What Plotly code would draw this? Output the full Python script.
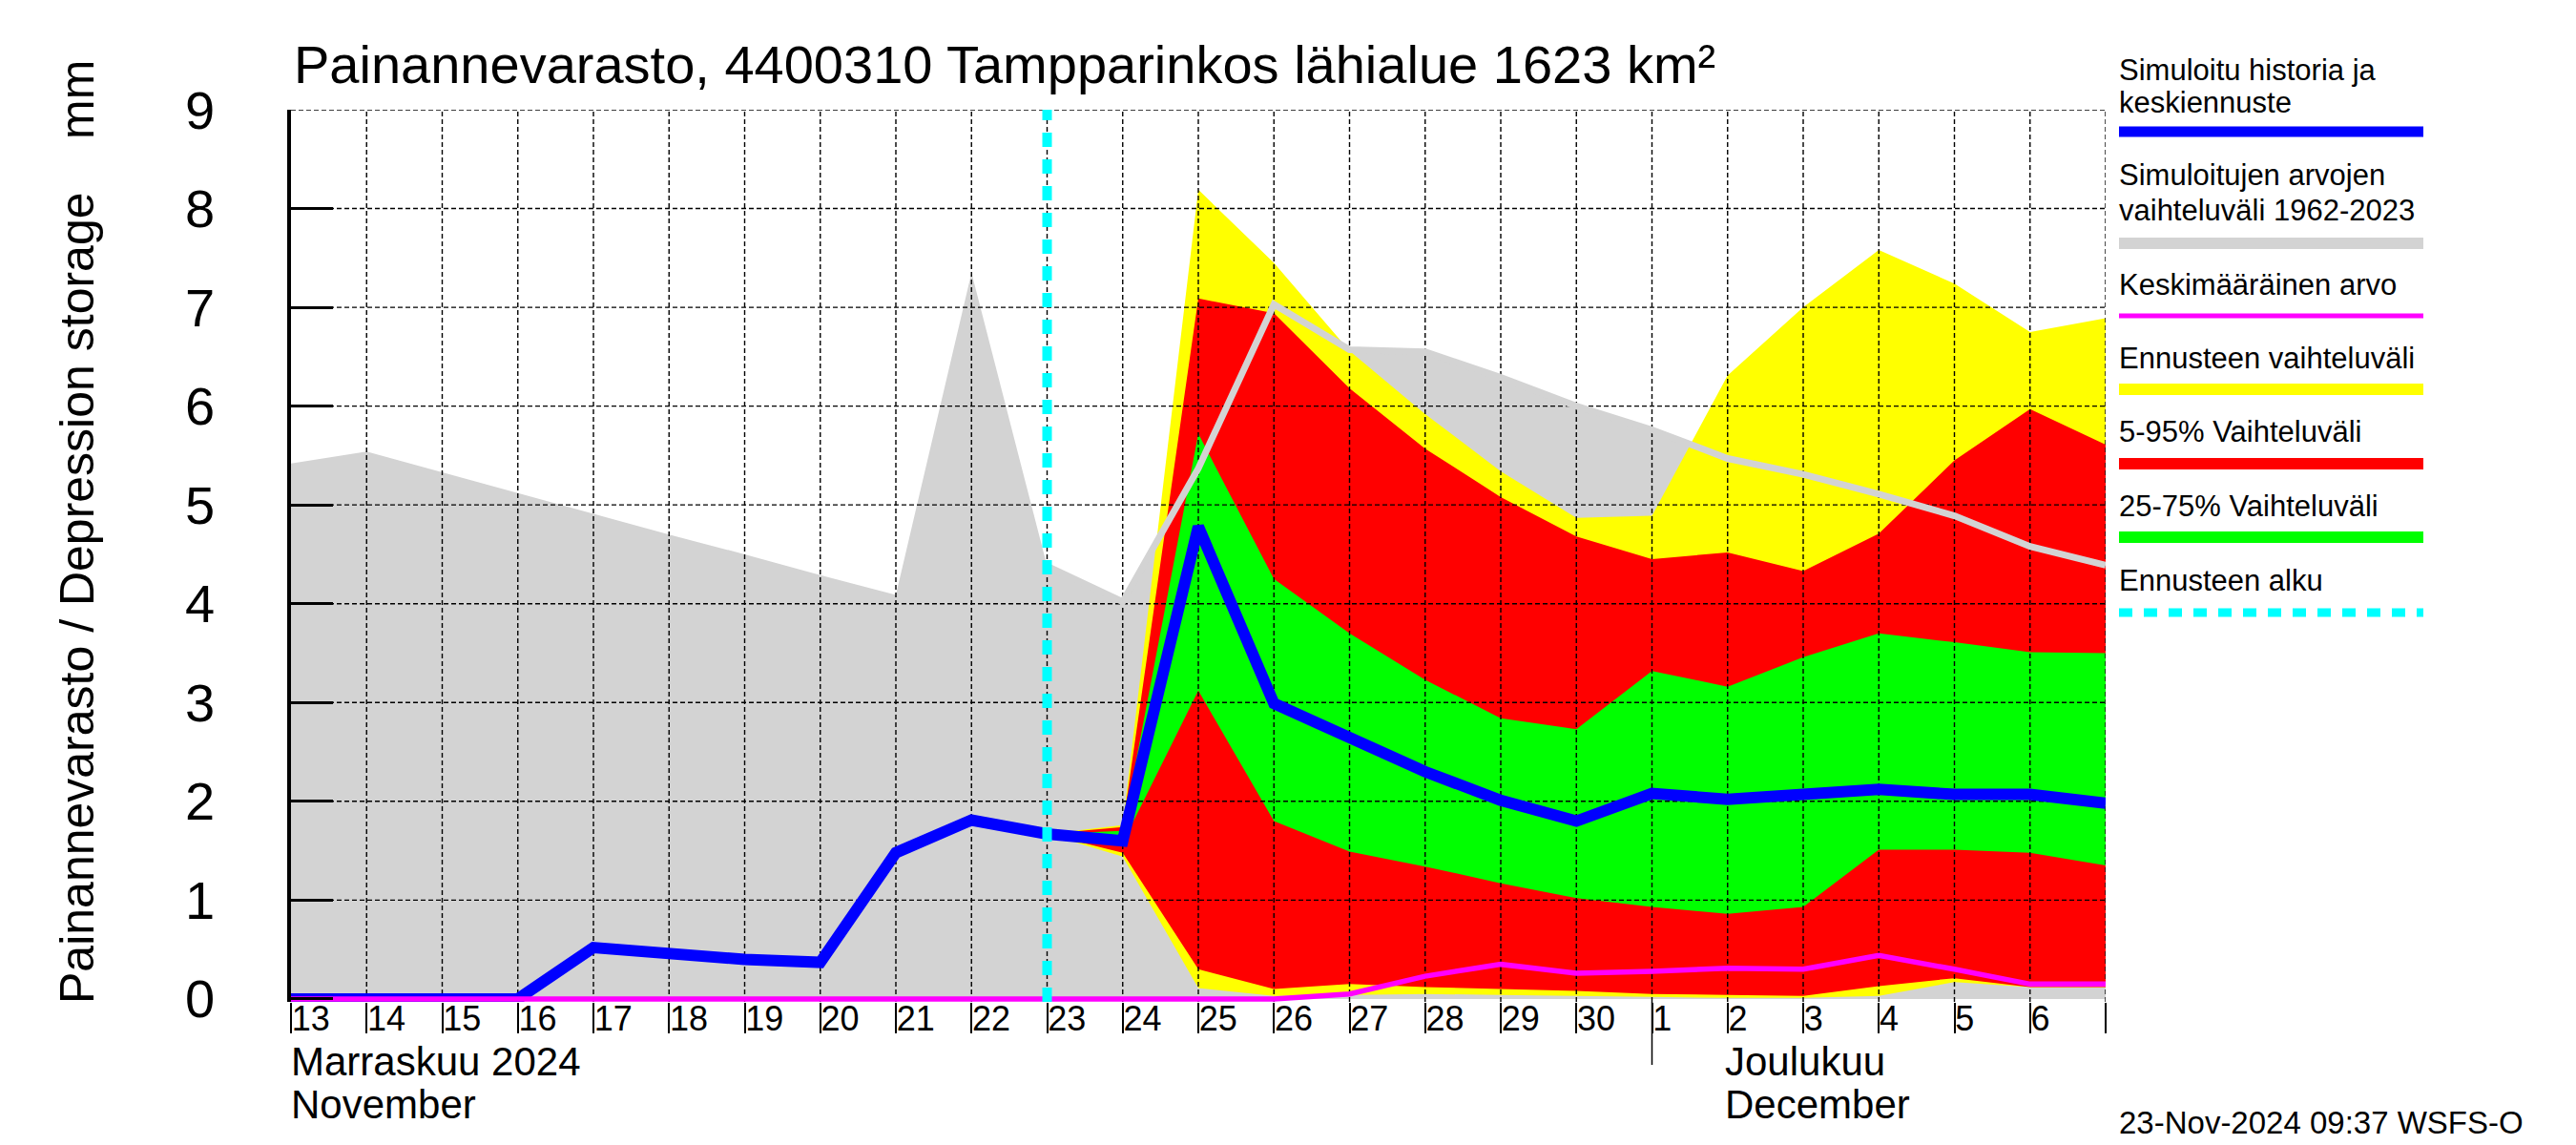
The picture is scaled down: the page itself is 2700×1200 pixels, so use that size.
import plotly.graph_objects as go

# ---------------- data ----------------
sim_dates = ["2024-11-13", "2024-11-14", "2024-11-15", "2024-11-16", "2024-11-17",
             "2024-11-18", "2024-11-19", "2024-11-20", "2024-11-21", "2024-11-22",
             "2024-11-23", "2024-11-24", "2024-11-25", "2024-11-26", "2024-11-27",
             "2024-11-28", "2024-11-29", "2024-11-30", "2024-12-01", "2024-12-02",
             "2024-12-03", "2024-12-04", "2024-12-05", "2024-12-06", "2024-12-07"]
day_labels = ["13", "14", "15", "16", "17", "18", "19", "20", "21", "22", "23", "24",
              "25", "26", "27", "28", "29", "30", "1", "2", "3", "4", "5", "6", ""]

sim_median = [0, 0, 0, 0, 0.52, 0.45, 0.40, 0.37, 1.48, 1.81, 1.67, 1.60, 4.78,
              2.99, 2.66, 2.30, 2.01, 1.80, 2.08, 2.02, 2.07, 2.12, 2.07, 2.07, 1.98]
hist_max = [5.42, 5.54, 5.33, 5.12, 4.91, 4.70, 4.50, 4.29, 4.09, 7.35, 4.38, 4.02,
            5.37, 7.03, 6.57, 6.55, 6.29, 6.00, 5.76, 5.47, 5.31, 5.11, 4.89, 4.58, 4.39]
hist_min = [0, 0, 0, 0, 0, 0, 0, 0, 0, 0, 0, 0, 0, 0, 0, 0, 0, 0, 0, 0, 0, 0, 0, 0, 0]
hist_mean = [0, 0, 0, 0, 0, 0, 0, 0, 0, 0, 0, 0, 0, 0, 0.05, 0.23, 0.35, 0.26,
             0.28, 0.31, 0.30, 0.44, 0.30, 0.15, 0.15]

fc_dates = sim_dates[10:]
fc_max = [1.67, 1.76, 8.19, 7.45, 6.56, 5.92, 5.34, 4.87, 4.89, 6.31, 7.00, 7.58, 7.24, 6.75, 6.89]
fc_p95 = [1.67, 1.74, 7.09, 6.94, 6.18, 5.57, 5.08, 4.68, 4.45, 4.52, 4.33, 4.71, 5.45, 5.97, 5.61]
fc_p75 = [1.67, 1.70, 5.72, 4.25, 3.70, 3.23, 2.84, 2.73, 3.32, 3.16, 3.46, 3.70, 3.61, 3.51, 3.50]
fc_p25 = [1.67, 1.58, 3.12, 1.80, 1.49, 1.34, 1.17, 1.02, 0.93, 0.86, 0.93, 1.51, 1.51, 1.48, 1.35]
fc_p05 = [1.67, 1.48, 0.30, 0.10, 0.15, 0.12, 0.10, 0.08, 0.05, 0.04, 0.03, 0.13, 0.21, 0.12, 0.12]
fc_min = [1.67, 1.44, 0.11, 0.03, 0.04, 0.05, 0.04, 0.03, 0.02, 0.01, 0.01, 0.03, 0.17, 0.12, 0.12]
forecast_start = "2024-11-23"

y_ticks = [0, 1, 2, 3, 4, 5, 6, 7, 8, 9]
y_range = [-0.03, 9]

title_text = "Painannevarasto, 4400310 Tampparinkos lähialue 1623 km²"
ytitle_text = "Painannevarasto / Depression storage    mm"
month_labels = [("Marraskuu 2024", "November"), ("Joulukuu", "December")]
month_label_px = [303, 1806]
month_start = "2024-12-01"
timestamp = "23-Nov-2024 09:37 WSFS-O"

legend_items = [
    (["Simuloitu historia ja", "keskiennuste"], "#0000ff", 11, "solid"),
    (["Simuloitujen arvojen", "vaihteluväli 1962-2023"], "#d3d3d3", 12, "solid"),
    (["Keskimääräinen arvo"], "#ff00ff", 5, "solid"),
    (["Ennusteen vaihteluväli"], "#ffff00", 12, "solid"),
    (["5-95% Vaihteluväli"], "#ff0000", 12, "solid"),
    (["25-75% Vaihteluväli"], "#00ff00", 12, "solid"),
    (["Ennusteen alku"], "#00ffff", 9, "14px,12px"),
]

FONT = "Liberation Sans, Arial, Helvetica, sans-serif"
W, H = 2700, 1200
L, R, T, B = 305, 493, 115, 150


def px_x(p):
    return (p - L) / (W - L - R)


def px_y(p):
    return (H - B - p) / (H - T - B)


fig = go.Figure()


def band(x, upper, lower, color):
    fig.add_trace(go.Scatter(x=list(x) + list(x)[::-1], y=list(upper) + list(lower)[::-1],
                             fill="toself", fillcolor=color, mode="none",
                             hoverinfo="skip", showlegend=False))


band(sim_dates, hist_max, hist_min, "#d3d3d3")
band(fc_dates, fc_max, fc_min, "#ffff00")
band(fc_dates, fc_p95, fc_p05, "#ff0000")
band(fc_dates, fc_p75, fc_p25, "#00ff00")

# dashed grid drawn above the bands
gx, gy = [], []
for d in sim_dates[1:]:
    gx += [d, d, None]
    gy += [y_range[0], y_ticks[-1], None]
for v in y_ticks[1:]:
    gx += [sim_dates[0], sim_dates[-1], None]
    gy += [v, v, None]
fig.add_trace(go.Scatter(x=gx, y=gy, mode="lines",
                         line=dict(color="black", width=1.4, dash="5px,3px"),
                         hoverinfo="skip", showlegend=False, connectgaps=False))

fig.add_trace(go.Scatter(x=fc_dates, y=hist_max[10:], mode="lines",
                         line=dict(color="#d3d3d3", width=7), showlegend=False))
fig.add_trace(go.Scatter(x=sim_dates, y=sim_median, mode="lines",
                         line=dict(color="#0000ff", width=12), showlegend=False))
fig.add_trace(go.Scatter(x=sim_dates, y=hist_mean, mode="lines",
                         line=dict(color="#ff00ff", width=5.5), showlegend=False))
fig.add_trace(go.Scatter(x=[forecast_start, forecast_start], y=[y_range[0], y_ticks[-1]],
                         mode="lines", line=dict(color="#00ffff", width=10, dash="15px,13px"),
                         showlegend=False))

annotations = []
shapes = []

# title
annotations.append(dict(text=title_text, x=px_x(306), y=px_y(67), xref="paper", yref="paper",
                        xanchor="left", yanchor="middle", showarrow=False,
                        font=dict(family=FONT, size=56, color="black")))
# y title
annotations.append(dict(text=ytitle_text, x=px_x(81), y=px_y(558), xref="paper", yref="paper",
                        xanchor="center", yanchor="middle", textangle=-90, showarrow=False,
                        font=dict(family=FONT, size=50, color="black")))
# month labels
for (l1, l2), mx in zip(month_labels, month_label_px):
    annotations.append(dict(text=l1, x=px_x(mx), y=px_y(1112), xref="paper", yref="paper",
                            xanchor="left", yanchor="middle", showarrow=False,
                            font=dict(family=FONT, size=42, color="black")))
    annotations.append(dict(text=l2, x=px_x(mx), y=px_y(1157), xref="paper", yref="paper",
                            xanchor="left", yanchor="middle", showarrow=False,
                            font=dict(family=FONT, size=42, color="black")))
shapes.append(dict(type="line", xref="x", yref="paper", x0=month_start, x1=month_start,
                   y0=0, y1=px_y(1116), line=dict(color="black", width=1.5)))

# timestamp
annotations.append(dict(text=timestamp, x=px_x(2219), y=px_y(1176), xref="paper", yref="paper",
                        xanchor="left", yanchor="middle", showarrow=False,
                        font=dict(family=FONT, size=33, color="black")))

# legend
text_rows = [[74, 107], [183, 220], [298], [375], [453], [530], [608]]
line_rows = [138, 255, 331, 408, 486, 563, 642]
for (labels, color, width, dash), trows, lrow in zip(legend_items, text_rows, line_rows):
    for lab, ty in zip(labels, trows):
        annotations.append(dict(text=lab, x=px_x(2219), y=px_y(ty), xref="paper", yref="paper",
                                xanchor="left", yanchor="middle", showarrow=False,
                                font=dict(family=FONT, size=31, color="black")))
    shapes.append(dict(type="line", xref="paper", yref="paper", x0=px_x(2221), x1=px_x(2540),
                       y0=px_y(lrow), y1=px_y(lrow), line=dict(color=color, width=width, dash=dash)))

fig.update_layout(
    width=W, height=H,
    margin=dict(l=L, r=R, t=T, b=B, pad=0),
    paper_bgcolor="white", plot_bgcolor="white",
    showlegend=False,
    annotations=annotations, shapes=shapes,
    xaxis=dict(type="date", range=[sim_dates[0], sim_dates[-1]],
               tickmode="array", tickvals=sim_dates, ticktext=day_labels,
               ticks="outside", ticklen=32, tickwidth=1.5, tickcolor="black",
               ticklabelposition="outside right", ticklabelstandoff=-14,
               tickfont=dict(family=FONT, size=36, color="black"),
               showgrid=False, showline=False, zeroline=False),
    yaxis=dict(range=y_range, tickmode="array", tickvals=y_ticks,
               ticks="inside", ticklen=44, tickwidth=3.3, tickcolor="black",
               showline=True, linewidth=3.5, linecolor="black",
               ticklabelstandoff=65,
               tickfont=dict(family=FONT, size=56, color="black"),
               showgrid=False, zeroline=False),
)

fig.write_html("out.html", config={"displayModeBar": False},
               post_script="document.body.style.margin='0px';")
